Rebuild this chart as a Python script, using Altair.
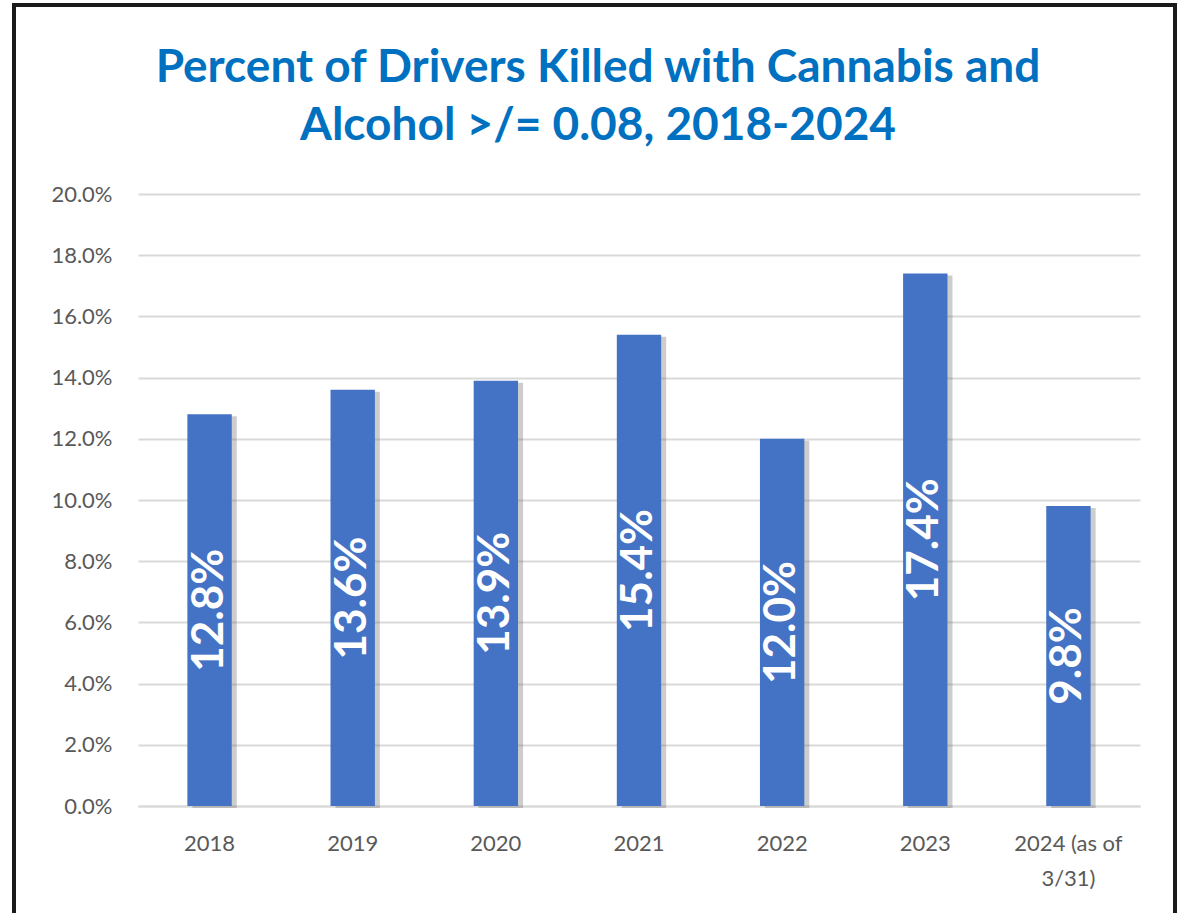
import altair as alt
import pandas as pd

title_lines = ["Percent of Drivers Killed with Cannabis and", "Alcohol >/= 0.08, 2018-2024"]
years = ["2018", "2019", "2020", "2021", "2022", "2023", "2024 (as of\n3/31)"]
values = [12.8, 13.6, 13.9, 15.4, 12.0, 17.4, 9.8]
labels = ["12.8%", "13.6%", "13.9%", "15.4%", "12.0%", "17.4%", "9.8%"]
y_ticks = [0, 2, 4, 6, 8, 10, 12, 14, 16, 18, 20]

df = pd.DataFrame({"year": years, "value": values, "label": labels})

FONT = "Lato"
x = alt.X("year:N", sort=years, title=None,
          scale=alt.Scale(paddingInner=0.69, paddingOuter=0.345),
          axis=alt.Axis(labelAngle=0, labelExpr="split(datum.label, '\\n')",
                        labelFontSize=22, labelColor="#595959", labelFont=FONT,
                        ticks=False, domainColor="#d9d9d9", domainWidth=2,
                        labelPadding=27, labelLineHeight=35))
y = alt.Y("value:Q", title=None,
          scale=alt.Scale(domain=[0, 20], nice=False),
          axis=alt.Axis(values=y_ticks, labelExpr="format(datum.value, '.1f') + '%'",
                        labelFontSize=22, labelColor="#595959", labelFont=FONT,
                        ticks=False, domain=False, gridColor="#d9d9d9", gridWidth=2,
                        labelPadding=26))

base = alt.Chart(df)

shadow = base.mark_bar(color="#6f6f6f", opacity=0.35, xOffset=5, yOffset=2).encode(x=x, y=y)
bars = base.mark_bar(color="#4472C4").encode(x=x, y=y)
text = base.mark_text(angle=270, color="white", font=FONT, fontSize=44,
                      fontWeight="bold").encode(
    x=alt.X("year:N", sort=years),
    y=alt.Y("mid:Q"),
    text="label:N",
).transform_calculate(mid="datum.value / 2")

tdf = pd.DataFrame({"t1": [title_lines[0]], "t2": [title_lines[1]]})
title_style = dict(font=FONT, fontSize=46, fontWeight="bold", color="#0070C0",
                   align="center", baseline="alphabetic")
title1 = alt.Chart(tdf).mark_text(**title_style).encode(
    x=alt.value(460), y=alt.value(-112), text="t1:N")
title2 = alt.Chart(tdf).mark_text(**title_style).encode(
    x=alt.value(460), y=alt.value(-54), text="t2:N")

border = alt.Chart(pd.DataFrame({"a": [0]})).mark_rect(
    fill=None, stroke="#1a1a1a", strokeWidth=4).encode(
    x=alt.value(-124), x2=alt.value(1037), y=alt.value(-189), y2=alt.value(740))

chart = alt.layer(shadow, bars, text, title1, title2, border).properties(
    width=1002, height=612,
    autosize=alt.AutoSizeParams(type="none"),
    padding={"left": 138, "top": 194, "right": 41, "bottom": 107},
    background="white",
).configure_view(stroke=None)

chart.save("out.html", embed_options={"renderer": "svg", "actions": False})
